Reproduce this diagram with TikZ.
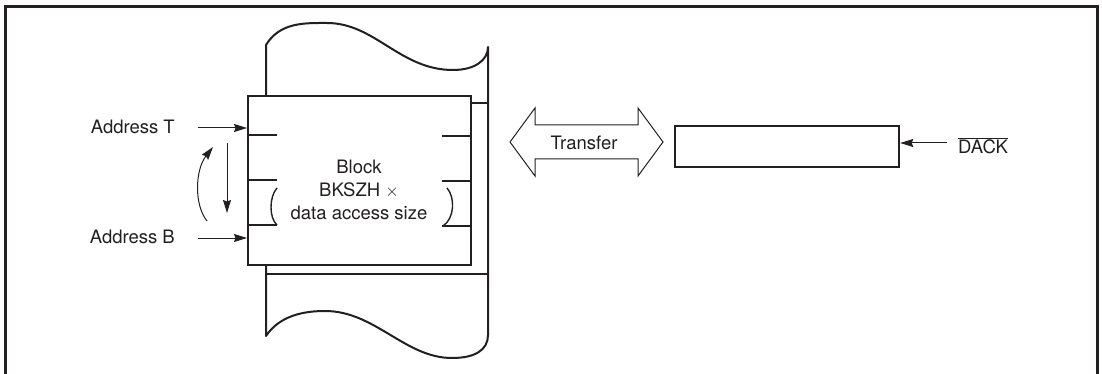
\documentclass[tikz,border=0pt]{standalone}
\usepackage{fontspec}
\setmainfont{TeX Gyre Heros}
\usetikzlibrary{arrows.meta}
\definecolor{ink}{HTML}{231F20}
\begin{document}
\begin{tikzpicture}[x=1pt,y=-1pt,
  thick line/.style={draw=ink,line width=2.2pt},
  col line/.style={draw=ink,line width=2pt},
  thin arrow/.style={draw=ink,line width=1pt,-{Stealth[length=13pt,width=8pt,inset=1.5pt]}},
  lbl/.style={text=ink,font=\fontsize{18.5}{23}\selectfont,inner sep=0pt}]
\useasboundingbox (0,0) rectangle (1102,374);
% outer frame (open at bottom)
\draw[ink,line width=3pt] (5,380) -- (5,6.5) -- (1097.5,6.5) -- (1097.5,380);
% memory column behind
\draw[col line,line join=round] (266,96) -- (266,45)
  .. controls (280,22) and (305,23) .. (327,23)
  .. controls (375,23) and (400,70) .. (453,70)
  .. controls (475,70) and (488,60) .. (488,47) -- (488,335)
  .. controls (488,350) and (475,358) .. (452,358)
  .. controls (405,358) and (375,311) .. (325,311)
  .. controls (305,311) and (280,315) .. (266,336) -- (266,264);
\draw[col line] (266,274) -- (488,274);
\draw[col line] (470,103) -- (488,103);
% block box
\node[thick line,fill=white,minimum width=223pt,minimum height=169pt,inner sep=0pt,anchor=north west] (blk) at (247,95) {};
% ticks
\foreach \y in {135,180,225}{\draw[col line] (247,\y) -- (277,\y);}
\foreach \y in {136,181,226}{\draw[col line] (442,\y) -- (470,\y);}
\draw[ink,line width=1.4pt] (277,188) .. controls (269,197) and (269,218) .. (277,225);
\draw[ink,line width=1.4pt] (447,188) .. controls (455,197) and (455,218) .. (443,226);
\node[lbl,align=center] (blktext) at (359,190) {Block\\BKSZH $\times$\\data access size};
% addresses
\node[lbl,anchor=east] (addrT) at (175,127) {Address T};
\node[lbl,anchor=east] (addrB) at (175,237) {Address B};
\coordinate (tA) at (198,128);
\coordinate (tB) at (247,128);
\coordinate (bA) at (198,238);
\coordinate (bB) at (247,238);
\draw[thin arrow] (tA) -- (tB);
\draw[thin arrow] (bA) -- (bB);
\coordinate (dn1) at (227,143);
\coordinate (dn2) at (227,213);
\draw[thin arrow] (dn1) -- (dn2);
\coordinate (up1) at (207,221);
\coordinate (up2) at (213,147);
\draw[thin arrow] (up1) .. controls (194,205) and (195,170) .. (up2);
% transfer double arrow
\draw[ink,line width=1pt,line join=miter] (510,142) -- (535,108) -- (535,125) -- (638,125) -- (638,108) -- (663,142)
  -- (638,176) -- (638,159) -- (535,159) -- (535,176) -- cycle;
\node[lbl] (transfer) at (584,143) {Transfer};
% DACK box
\node[thick line,minimum width=224pt,minimum height=41pt,inner sep=0pt,anchor=north west] (dbox) at (674,125) {};
\node[lbl,anchor=west] (dack) at (958,146) {$\overline{\hbox{DACK}}$};
\coordinate (dk) at (947,143);
\draw[thin arrow] (dk) -- (dbox.east |- dk);
\end{tikzpicture}
\end{document}
